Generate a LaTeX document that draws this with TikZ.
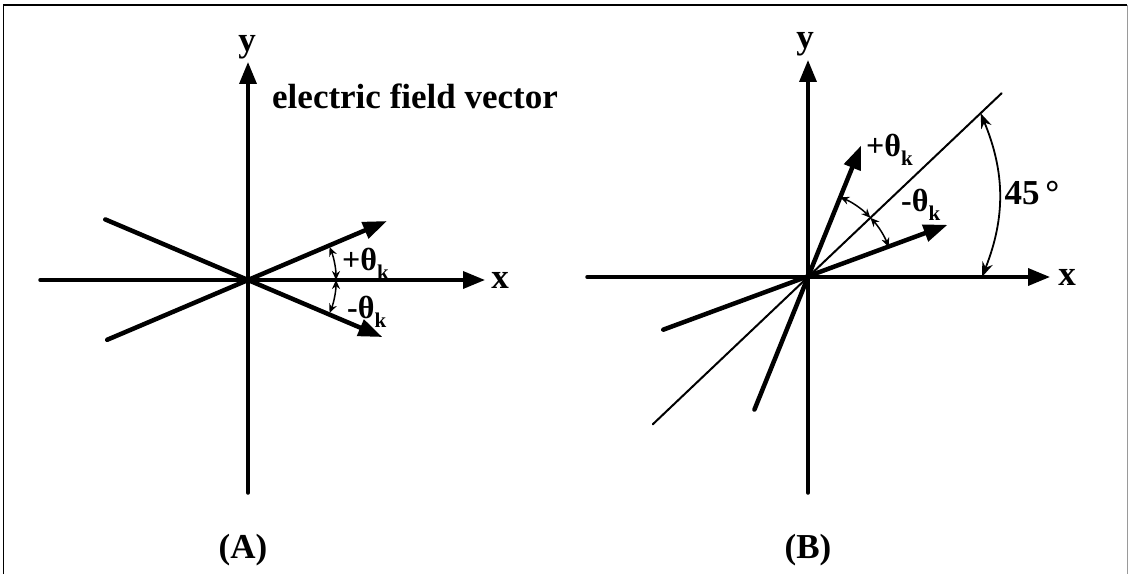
\documentclass[tikz,border=0pt]{standalone}
\usepackage{fontspec}
\setmainfont{Liberation Serif}
\usepackage{tikz}
\usetikzlibrary{arrows.meta,calc}
\usepackage{xcolor}
\definecolor{ink}{HTML}{000000}
\definecolor{edge}{HTML}{9a9a9a}

\newcommand{\thk}[1]{#1θ\raisebox{-0.3em}{\fontsize{21}{21}\selectfont k}}

\tikzset{
  axis/.style={draw=ink, line width=3.5pt, line cap=round, -{Triangle[length=22pt,width=17pt]}},
  vec/.style={draw=ink, line width=4.5pt, line cap=round, -{Triangle[length=24pt,width=17pt]}},
  diag/.style={draw=ink, line width=2pt, line cap=round},
  angarc/.style={draw=ink, line width=1.5pt, {Stealth[length=9pt,width=8pt]}-{Stealth[length=9pt,width=8pt]}},
  bigarc/.style={draw=ink, line width=1.8pt, {Stealth[length=15pt,width=11pt]}-{Stealth[length=15pt,width=11pt]}},
  lbl/.style={inner sep=0pt, font=\fontsize{35}{40}\selectfont\bfseries},
  anglbl/.style={inner sep=0pt, anchor=west, font=\fontsize{32}{36}\selectfont\bfseries}
}

\begin{document}
\begin{tikzpicture}[x=1pt, y=1pt]
      \useasboundingbox (0,0) rectangle (1130,574);
      \draw[line width=1pt] (3,0) -- (3,569);
      \draw[line width=2pt] (3,569) -- (1127,569);
      \draw[line width=1pt, edge] (1127,569) -- (1127,0);

      % panel A
      \coordinate (oA) at (248,294);
      \coordinate (xA0) at (40,294);
      \coordinate (xA1) at (485,294);
      \coordinate (yA0) at (248,81);
      \coordinate (yA1) at (248,512);
      \draw[axis] (xA0) -- (xA1);
      \draw[axis] (yA0) -- (yA1);
      \node[lbl] (xA) at (500,294) {x};
      \node[lbl] (yA) at (247,527) {y};
      \node[lbl, anchor=base west] (field) at (272,465) {electric field vector};

      \draw[vec] ($(oA)+(157:155)$) -- ($(oA)+(-23:146)$);
      \draw[vec] ($(oA)+(203:153)$) -- ($(oA)+(23:151)$);
      \draw[angarc] ($(oA)+(0:88)$) arc[start angle=0, end angle=22, radius=88];
      \draw[angarc] ($(oA)+(0:88)$) arc[start angle=0, end angle=-22, radius=88];
      \node[anglbl] (plusA) at (342,310) {\thk{+}};
      \node[anglbl] (minusA) at (347,262) {\thk{-}};
      \node[lbl] (capA) at (243,24) {(A)};

      % panel B
      \coordinate (oB) at (808,297);
      \coordinate (xB0) at (587,297);
      \coordinate (xB1) at (1050,297);
      \coordinate (yB0) at (808,81);
      \coordinate (yB1) at (808,514);
      \draw[axis] (xB0) -- (xB1);
      \draw[axis] (yB0) -- (yB1);
      \node[lbl] (xB) at (1067,297) {x};
      \node[lbl] (yB) at (805,530) {y};

      \draw[diag] ($(oB)+(223.5:214)$) -- ($(oB)+(43.5:267)$);
      \draw[vec] ($(oB)+(248:143)$) -- ($(oB)+(68:142)$);
      \draw[vec] ($(oB)+(200:154)$) -- ($(oB)+(20.5:149)$);
      \draw[angarc] ($(oB)+(68:86)$) arc[start angle=68, end angle=43.5, radius=86];
      \draw[angarc] ($(oB)+(43.5:86)$) arc[start angle=43.5, end angle=20.5, radius=86];
      \draw[bigarc] ($(oB)+(0:174)$) to[bend right=22] ($(oB)+(43.5:238)$);
      \node[anglbl] (plusB) at (866,424) {\thk{+}};
      \node[anglbl] (minusB) at (901,369) {\thk{-}};
      \node[lbl] (deg) at (1032,381) {45\,°};
      \node[lbl] (capB) at (808,24) {(B)};
    \end{tikzpicture}
\end{document}
